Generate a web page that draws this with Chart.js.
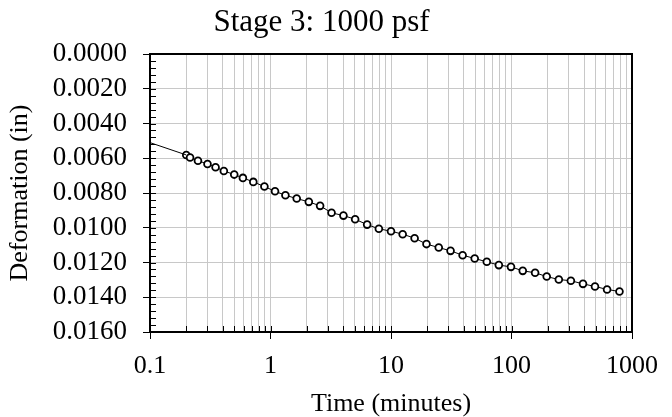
<!DOCTYPE html>
<html>
<head>
<meta charset="utf-8">
<script src="https://cdn.jsdelivr.net/npm/chart.js@4"></script>
<style>
  html, body { margin: 0; padding: 0; background: #fff; }
  #wrap { width: 672px; height: 417px; position: relative; }
</style>
</head>
<body>
<div id="wrap"><canvas id="chart"></canvas></div>
<script>
// Stage 3 consolidation readings
const times = [0.2, 0.215, 0.25, 0.3, 0.35, 0.41, 0.5, 0.59, 0.72, 0.89,
  1.09, 1.33, 1.65, 2.08, 2.58, 3.21, 4.03, 5.04, 6.34, 7.93,
  10, 12.5, 15.7, 19.7, 24.9, 31.2, 39.3, 49.5, 62.4, 78.5,
  99, 124, 157, 196, 247, 311, 392, 493, 621, 787]
const deformation = [0.00581, 0.00596, 0.00614, 0.00633, 0.00652, 0.00673, 0.00694, 0.00713, 0.00736, 0.00763,
  0.00790, 0.00813, 0.00832, 0.00851, 0.00874, 0.00914, 0.00930, 0.00951, 0.00982, 0.01006,
  0.01020, 0.01037, 0.01060, 0.01094, 0.01114, 0.01133, 0.01158, 0.01177, 0.01196, 0.01215,
  0.01225, 0.01248, 0.01259, 0.01281, 0.01298, 0.01305, 0.01323, 0.01338, 0.01355, 0.01367]

// leading segment drawn in from the left edge
const leadTimes = [0.1, 0.2]
const leadDeformation = [0.00510, 0.00581]

const decades = [0.1, 1, 10, 100, 1000]
const yTicks = [0, 0.002, 0.004, 0.006, 0.008, 0.010, 0.012, 0.014, 0.016]
const yMinorStep = 0.0004

const serif = '"Liberation Serif", "Times New Roman", serif'
const gridGray = '#c8c8c8'

function logTickValues() {
  const values = []
  decades.forEach((d, i) => {
    if (i === decades.length - 1) { values.push(d); return }
    for (let k = 1; k <= 9; k++) values.push(+(d * k).toPrecision(3))
  })
  return values
}

const frameAndTicks = {
  id: 'frameAndTicks',
  afterDraw(chart) {
    const { ctx, chartArea: a, scales: { x, y } } = chart
    ctx.save()
    ctx.strokeStyle = '#000'
    ctx.lineWidth = 1
    ctx.beginPath()
    // inward ticks on the x axis
    logTickValues().forEach(v => {
      const px = Math.round(x.getPixelForValue(v)) + 0.5
      ctx.moveTo(px, a.bottom)
      ctx.lineTo(px, a.bottom - 6)
    })
    // inward minor ticks on the y axis
    for (let i = 0; i <= Math.round(0.016 / yMinorStep); i++) {
      const py = Math.round(y.getPixelForValue(i * yMinorStep)) + 0.5
      ctx.moveTo(a.left, py)
      ctx.lineTo(a.left + 6, py)
    }
    ctx.stroke()
    ctx.lineWidth = 2
    ctx.strokeRect(a.left, a.top, a.right - a.left, a.bottom - a.top)
    ctx.restore()
  }
}

new Chart(document.getElementById('chart'), {
  type: 'scatter',
  data: {
    datasets: [
      {
        data: leadTimes.map((t, i) => ({ x: t, y: leadDeformation[i] })),
        showLine: true,
        borderColor: '#000',
        borderWidth: 1,
        pointRadius: 0,
      },
      {
        data: times.map((t, i) => ({ x: t, y: deformation[i] })),
        showLine: true,
        borderColor: '#000',
        borderWidth: 1,
        pointRadius: 3.4,
        pointBorderWidth: 1.8,
        pointBorderColor: '#000',
        pointBackgroundColor: '#fff',
      },
    ]
  },
  options: {
    responsive: true,
    maintainAspectRatio: false,
    animation: false,
    layout: { padding: { left: 0, right: 29, top: 0, bottom: 0 } },
    plugins: {
      legend: { display: false },
      tooltip: { enabled: false },
      title: {
        display: true,
        text: 'Stage 3: 1000 psf',
        color: '#000',
        font: { family: serif, size: 31, weight: 'normal', lineHeight: 1.2 },
        padding: { top: 4, bottom: 12.8 },
      },
    },
    scales: {
      x: {
        type: 'logarithmic',
        min: 0.1,
        max: 1000,
        afterBuildTicks: scale => {
          scale.ticks = logTickValues().map(v => ({ value: v, major: decades.includes(v) }))
        },
        afterFit: scale => { scale.height = 85 },
        ticks: {
          autoSkip: false,
          maxRotation: 0,
          color: '#000',
          padding: 14,
          font: { family: serif, size: 26, lineHeight: 1 },
          callback: v => decades.includes(v) ? String(v) : '',
        },
        grid: {
          color: gridGray,
          lineWidth: 1,
          tickLength: 7,
          tickColor: c => (c.tick && c.tick.major) ? '#000' : 'rgba(0,0,0,0)',
        },
        border: { display: false },
        title: {
          display: true,
          text: 'Time (minutes)',
          color: '#000',
          font: { family: serif, size: 26, lineHeight: 1 },
          padding: { top: 0, bottom: 0 },
        },
      },
      y: {
        type: 'linear',
        reverse: true,
        min: 0,
        max: 0.016,
        afterBuildTicks: scale => {
          scale.ticks = yTicks.map(v => ({ value: v }))
        },
        afterFit: scale => { scale.width = 150 },
        ticks: {
          autoSkip: false,
          color: '#000',
          padding: 16,
          font: { family: serif, size: 27, lineHeight: 1 },
          callback: v => Number(v).toFixed(4),
        },
        grid: {
          color: gridGray,
          lineWidth: 1,
          tickLength: 7,
          tickColor: '#000',
        },
        border: { display: false },
        title: {
          display: true,
          text: 'Deformation (in)',
          color: '#000',
          font: { family: serif, size: 26, lineHeight: 1 },
          padding: { top: 7, bottom: 0 },
        },
      },
    },
  },
  plugins: [frameAndTicks],
})
</script>
</body>
</html>
